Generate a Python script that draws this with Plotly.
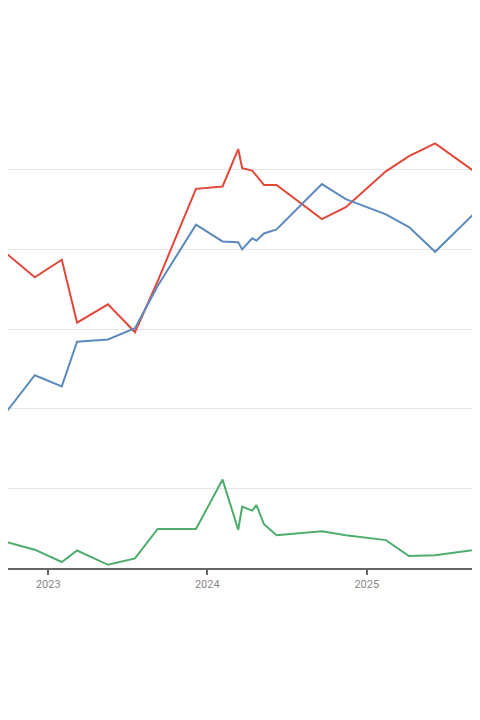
import plotly.graph_objects as go

# dates of each observation (first and last fall just outside the visible range)
dates = [
    "2022-08-02", "2022-10-01", "2022-12-01", "2023-02-01", "2023-03-08",
    "2023-05-18", "2023-07-19", "2023-09-09", "2023-12-06", "2024-02-05",
    "2024-03-12", "2024-03-21", "2024-04-13", "2024-04-23", "2024-05-10",
    "2024-06-08", "2024-09-20", "2024-11-14", "2025-02-14", "2025-04-08",
    "2025-06-07", "2025-11-03",
]

red_vals = [
    41.7, 39.3, 36.5, 38.7, 30.8, 33.1, 29.6, 36.0, 47.6, 47.9,
    52.6, 50.2, 49.9, 49.2, 48.1, 48.1, 43.8, 45.3, 49.8, 51.7,
    53.3, 47.5,
]

blue_vals = [
    24.9, 19.9, 24.2, 22.8, 28.4, 28.7, 30.1, 35.4, 43.1, 41.0,
    40.9, 40.0, 41.4, 41.1, 42.0, 42.5, 48.2, 46.3, 44.4, 42.8,
    39.7, 47.7,
]

green_vals = [
    2.4, 3.2, 2.3, 0.75, 2.2, 0.4, 1.2, 4.9, 4.9, 11.1,
    4.8, 7.7, 7.2, 7.9, 5.5, 4.1, 4.6, 4.1, 3.5, 1.5,
    1.6, 2.7,
]

fig = go.Figure()

for vals, color in [(red_vals, "#E2483A"), (blue_vals, "#5B8BBE"), (green_vals, "#4EAD6C")]:
    fig.add_trace(go.Scatter(
        x=dates, y=vals, mode="lines",
        line=dict(color=color, width=2),
        hoverinfo="skip",
    ))

# page body adds 8px round the figure, keep it inside the window (no scrollbar)
fig.update_layout(
    width=472, height=696,
    margin=dict(l=0, r=0, t=106, b=136),
    paper_bgcolor="white", plot_bgcolor="white",
    showlegend=False,
    font=dict(family="Roboto", color="#888888", size=11),
)

fig.update_xaxes(
    type="date",
    range=["2022-09-30 12:00", "2025-09-18"],
    dtick="M12", tick0="2023-01-01", tickformat="%Y",
    showgrid=False,
    showline=True, linecolor="#666666", linewidth=2,
    ticks="outside", ticklen=5, tickwidth=1.5, tickcolor="#666666",
    tickfont=dict(size=11, color="#888888"),
)

fig.update_yaxes(
    range=[0, 57], dtick=10,
    showticklabels=False,
    showgrid=True, gridcolor="#e6e6e6", gridwidth=1,
    zeroline=False,
)

fig.write_html("out.html")
